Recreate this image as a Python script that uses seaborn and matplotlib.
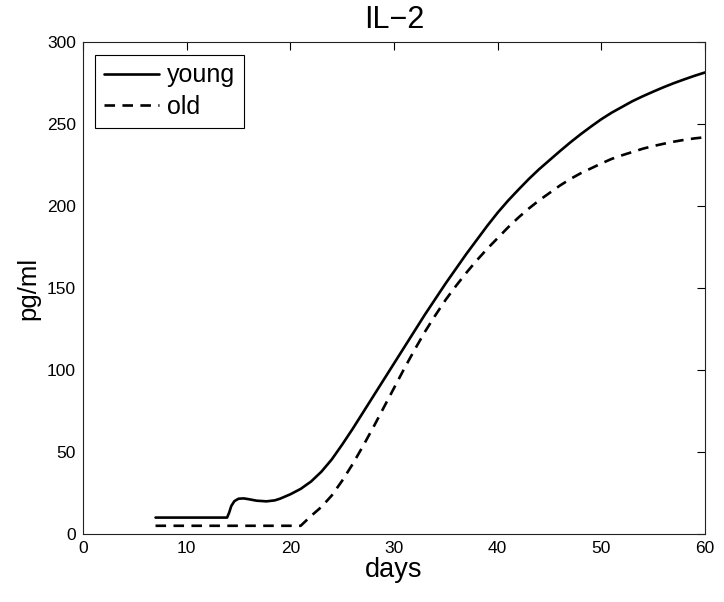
import matplotlib
matplotlib.use("Agg")
import matplotlib.pyplot as plt
import seaborn as sns
import pandas as pd

# IL-2 concentration (pg/ml) over days
young_days = [7, 10, 13.9, 14.1, 14.3, 14.6, 15, 15.5, 16, 16.75, 17.7, 18.5, 19, 20,
              21, 22, 23, 24, 25, 26, 27, 28, 29, 30, 31, 32, 33, 34, 35, 36, 37, 38,
              39, 40, 41, 42, 43, 44, 45, 46, 47, 48, 49, 50, 51, 52, 53, 54, 55, 56,
              57, 58, 59, 60]
young_vals = [10, 10, 10, 13, 17, 20, 21.5, 21.7, 21.2, 20.3, 19.9, 20.5, 21.5, 24.2,
              27.5, 32, 38, 45.5, 54.5, 64, 74, 84, 94, 104, 114, 124, 134, 143.5, 153,
              162, 171, 179.5, 188, 196, 203.3, 210, 216.5, 222.5, 228, 233.5, 238.8,
              243.8, 248.5, 253, 257, 260.5, 264, 267, 269.8, 272.5, 275, 277.3, 279.5,
              281.5]

old_days = [7, 10, 15, 20, 21, 21.5, 22, 23, 24, 25, 26, 27, 28, 29, 30, 31, 32, 33, 34,
            35, 36, 37, 38, 39, 40, 41, 42, 43, 44, 45, 46, 47, 48, 49, 50, 51, 52, 53,
            54, 55, 56, 57, 58, 59, 60]
old_vals = [5, 5, 5, 5, 5, 8, 11, 16.5, 23.5, 32.5, 42.5, 53.5, 65, 77, 89, 101, 112.5,
            123.5, 133.5, 143, 151.5, 159.5, 167, 174, 180.5, 187, 193, 198.5, 203.5,
            208, 212.5, 216.5, 220, 223, 226, 228.8, 231, 233, 235, 236.6, 238,
            239.3, 240.4, 241.3, 242]

df = pd.concat([
    pd.DataFrame({"days": young_days, "pg/ml": young_vals, "group": "young"}),
    pd.DataFrame({"days": old_days, "pg/ml": old_vals, "group": "old"}),
])

sns.set_style("white")
plt.rcParams["font.family"] = ["Liberation Sans", "DejaVu Sans"]
plt.rcParams["text.color"] = "black"
plt.rcParams["axes.labelcolor"] = "black"

fig = plt.figure(figsize=(7.24, 6.02), dpi=100)
ax = fig.add_axes([0.1146, 0.113, 0.8592, 0.817])

sns.lineplot(data=df, x="days", y="pg/ml", style="group", hue="group",
             palette={"young": "black", "old": "black"},
             dashes={"young": "", "old": (4, 2.8)},
             linewidth=1.9, sort=False, estimator=None, ax=ax)

ax.set_xlim(0, 60)
ax.set_ylim(0, 300)
ax.set_xticks(range(0, 61, 10))
ax.set_yticks(range(0, 301, 50))
ax.tick_params(direction="in", length=6, width=0.8, top=True, right=True,
               labelsize=12.5, colors="black", pad=5)
for s in ax.spines.values():
    s.set_visible(True)
    s.set_color("#222222")
    s.set_linewidth(0.8)

ax.set_xlabel("days", fontsize=19.5, labelpad=1)
ax.set_ylabel("pg/ml", fontsize=18.5, labelpad=5)
ax.set_title("IL\u22122", fontsize=22, pad=10, color="black")

leg = ax.legend(loc="upper left", fontsize=18, handlelength=2.2, handletextpad=0.3,
                borderaxespad=0.5, labelspacing=0.3, fancybox=False, framealpha=1,
                borderpad=0.35)
leg.get_frame().set_edgecolor("black")
leg.get_frame().set_linewidth(0.8)

fig.savefig("out.png", dpi=100)
